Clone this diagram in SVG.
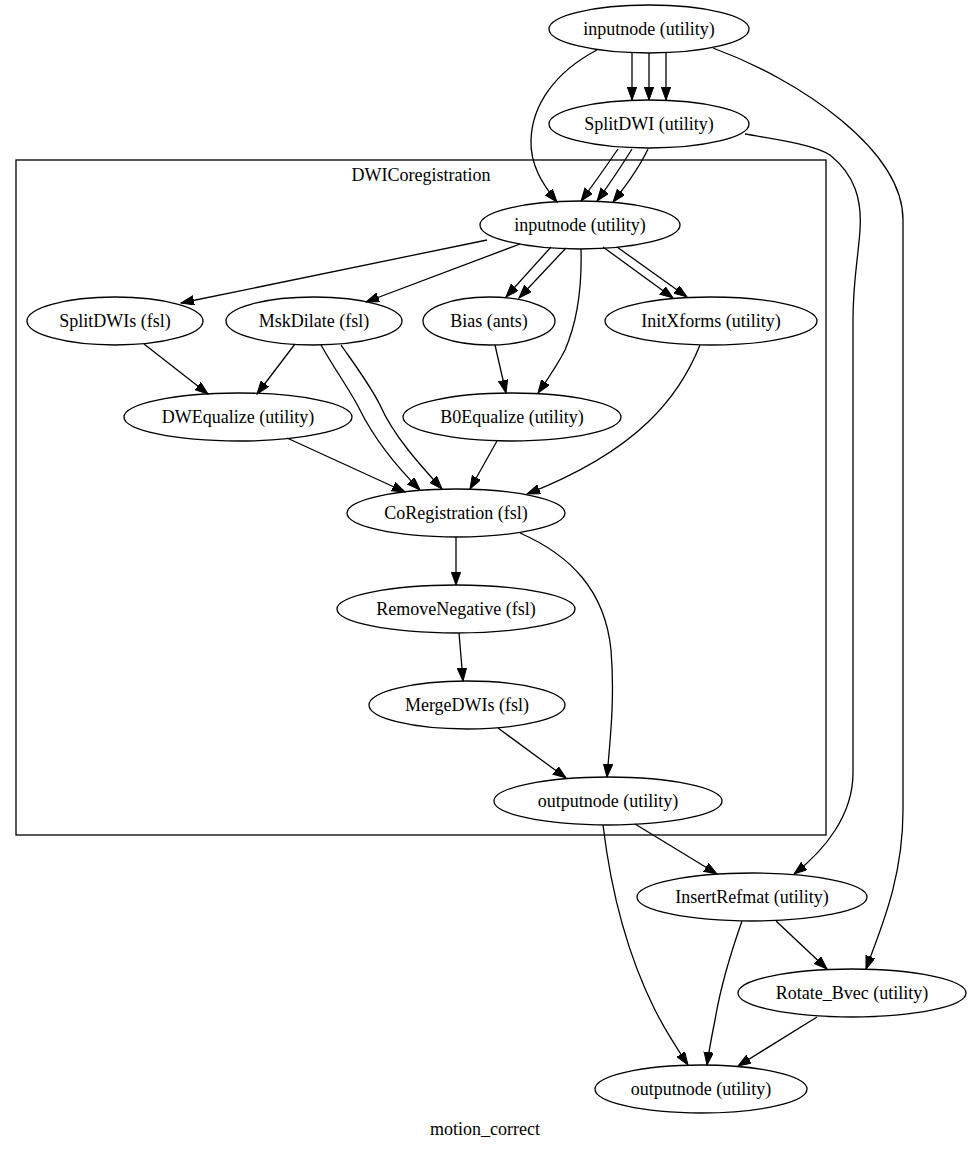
<svg xmlns="http://www.w3.org/2000/svg" width="971" height="1149" viewBox="0 0 971 1149">
<style>
  .node ellipse { fill: none; stroke: #000; stroke-width: 1.3; }
  text { font-family: "Liberation Serif", "Times New Roman", serif; font-size: 18px; fill: #000; text-anchor: middle; }
  .edges path { fill: none; stroke: #000; stroke-width: 1.3; marker-end: url(#arrow); }
  .cluster rect { fill: none; stroke: #000; stroke-width: 1.3; }
</style>
<defs>
  <marker id="arrow" markerUnits="userSpaceOnUse" markerWidth="14" markerHeight="10" refX="13" refY="4.7" orient="auto">
    <path d="M0,0 L13,4.7 L0,9.4 z" fill="#000" stroke="#000" stroke-width="1"/>
  </marker>
</defs>
<rect width="971" height="1149" fill="#fff"/>
<g id="cluster_DWICoregistration" class="cluster">
  <rect x="16" y="160" width="810" height="675"/>
  <text x="421" y="181">DWICoregistration</text>
</g>
<g id="edges" class="edges">
  <path d="M632,53 L632,100"/>
  <path d="M649,53 L649,100"/>
  <path d="M666,53 L666,100"/>
  <path d="M597,50 C555,72 532,105 531,140 C530,165 543,185 557,202"/>
  <path d="M713,48 C800,80 903,150 903,220 L903,810 C903,880 880,930 866,969"/>
  <path d="M745,134 C780,140 815,145 830,155 C855,175 862,200 860,230 C858,260 853,280 853,320 L853,773 C853,815 825,850 794,874"/>
  <path d="M618,149 C607,165 593,185 581,201"/>
  <path d="M632,149 C622,165 609,185 597,201"/>
  <path d="M648,149 C639,168 625,187 613,202"/>
  <path d="M487,240 L181,303"/>
  <path d="M520,244 L366,302"/>
  <path d="M551,247 L506,297"/>
  <path d="M566,248 L519,298"/>
  <path d="M581,249 C582,285 578,320 565,350 C557,366 547,380 538,393"/>
  <path d="M603,247 L673,298"/>
  <path d="M617,247 L687,297"/>
  <path d="M144,344 L208,394"/>
  <path d="M295,344 L257,394"/>
  <path d="M321,345 C335,370 350,390 360,410 C375,440 400,470 420,490"/>
  <path d="M341,345 C355,365 370,385 380,405 C393,435 420,465 442,489"/>
  <path d="M287,438 L405,492"/>
  <path d="M495,345 L506,393"/>
  <path d="M497,441 L470,489"/>
  <path d="M700,345 C680,395 640,450 527,494"/>
  <path d="M456,537 L456,585"/>
  <path d="M459,633 L463,681"/>
  <path d="M520,533 C570,555 605,590 611,650 C615,700 610,740 607,777"/>
  <path d="M498,728 L566,778"/>
  <path d="M635,824 L717,874"/>
  <path d="M603,825 C612,900 630,960 655,1010 C665,1030 678,1050 688,1065"/>
  <path d="M742,921 C730,955 720,990 715,1020 C712,1035 709,1050 707,1065"/>
  <path d="M776,921 L827,969"/>
  <path d="M817,1017 L738,1066"/>
</g>
<g id="inputnode_top" class="node"><ellipse cx="649" cy="29" rx="100" ry="24"/><text x="649" y="35">inputnode (utility)</text></g>
<g id="SplitDWI" class="node"><ellipse cx="649" cy="124" rx="100" ry="24"/><text x="649" y="130">SplitDWI (utility)</text></g>
<g id="inputnode_inner" class="node"><ellipse cx="580" cy="225" rx="100" ry="24"/><text x="580" y="231">inputnode (utility)</text></g>
<g id="SplitDWIs" class="node"><ellipse cx="115" cy="321" rx="88" ry="24"/><text x="115" y="327">SplitDWIs (fsl)</text></g>
<g id="MskDilate" class="node"><ellipse cx="314" cy="321" rx="88" ry="24"/><text x="314" y="327">MskDilate (fsl)</text></g>
<g id="Bias" class="node"><ellipse cx="489" cy="321" rx="66" ry="24"/><text x="489" y="327">Bias (ants)</text></g>
<g id="InitXforms" class="node"><ellipse cx="711" cy="321" rx="106" ry="24"/><text x="711" y="327">InitXforms (utility)</text></g>
<g id="DWEqualize" class="node"><ellipse cx="238" cy="417" rx="114" ry="24"/><text x="238" y="423">DWEqualize (utility)</text></g>
<g id="B0Equalize" class="node"><ellipse cx="512" cy="417" rx="109" ry="24"/><text x="512" y="423">B0Equalize (utility)</text></g>
<g id="CoRegistration" class="node"><ellipse cx="456" cy="513" rx="109" ry="24"/><text x="456" y="519">CoRegistration (fsl)</text></g>
<g id="RemoveNegative" class="node"><ellipse cx="456" cy="609" rx="119" ry="24"/><text x="456" y="615">RemoveNegative (fsl)</text></g>
<g id="MergeDWIs" class="node"><ellipse cx="467" cy="705" rx="98" ry="24"/><text x="467" y="711">MergeDWIs (fsl)</text></g>
<g id="outputnode_inner" class="node"><ellipse cx="608" cy="801" rx="114" ry="24"/><text x="608" y="807">outputnode (utility)</text></g>
<g id="InsertRefmat" class="node"><ellipse cx="752" cy="897" rx="115" ry="24"/><text x="752" y="903">InsertRefmat (utility)</text></g>
<g id="Rotate_Bvec" class="node"><ellipse cx="852" cy="993" rx="114" ry="24"/><text x="852" y="999">Rotate_Bvec (utility)</text></g>
<g id="outputnode_bottom" class="node"><ellipse cx="701" cy="1089" rx="106" ry="24"/><text x="701" y="1095">outputnode (utility)</text></g>
<text x="485" y="1135">motion_correct</text>
</svg>
